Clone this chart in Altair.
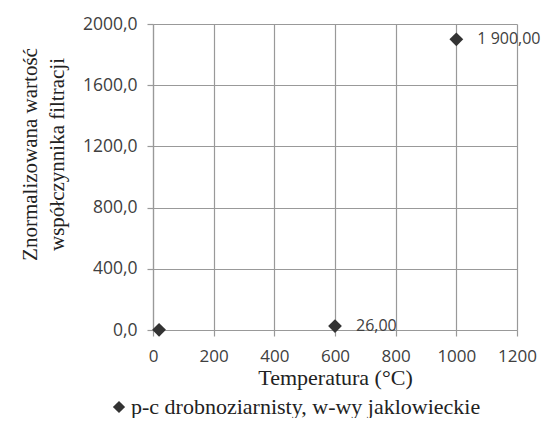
import altair as alt
import pandas as pd

temps = [20, 600, 1000]
values = [1.0, 26.0, 1900.0]
labels = ["", "26,00", "1 900,00"]
series = ["p-c  drobnoziarnisty, w-wy jaklowieckie"] * 3

df = pd.DataFrame({"T": temps, "V": values, "lab": labels, "s": series})

common = dict(labelFont="Open Sans", labelColor="#404040", labelOverlap=False, labelFlush=False,
              tickSize=6, tickColor="#999", domainColor="#999",
              gridColor="#999", gridWidth=1.2, tickWidth=1.2, domainWidth=1.2,
              titleFont="Liberation Serif", titleFontWeight="normal", titleColor="#222")

x = alt.X("T:Q", scale=alt.Scale(domain=[0, 1200], nice=False),
          axis=alt.Axis(values=[0, 200, 400, 600, 800, 1000, 1200], title="Temperatura (°C)",
                        labelExpr="format(datum.value, 'd')", labelFontSize=17,
                        titleFontSize=22, titlePadding=3, labelPadding=12, **common))
y = alt.Y("V:Q", scale=alt.Scale(domain=[0, 2000], nice=False),
          axis=alt.Axis(values=[0, 400, 800, 1200, 1600, 2000],
                        title=["Znormalizowana wartość", "współczynnika  filtracji"],
                        labelExpr="replace(format(datum.value, '.1f'), '.', ',')",
                        labelFontSize=17.5,
                        titleFontSize=21, titlePadding=15, titleLineHeight=27, titleY=130,
                        labelPadding=10, **common))

pts = alt.Chart(df).mark_point(shape="diamond", filled=True, size=190, opacity=1).encode(
    x=x, y=y,
    color=alt.Color("s:N", scale=alt.Scale(range=["#333333"]),
                    legend=alt.Legend(title=None, orient="none", legendX=-45, legendY=372,
                                      labelFont="Liberation Serif", labelFontSize=22,
                                      labelColor="#222", symbolType="diamond", symbolSize=150,
                                      labelOffset=1, labelLimit=500)),
)
txt = alt.Chart(df).mark_text(align="left", baseline="middle", dx=21, font="Open Sans",
                              fontSize=16, color="#404040").encode(
    x="T:Q", y="V:Q", text="lab:N")

chart = (pts + txt).properties(
    width=364, height=306,
    padding={"left": 145, "top": 16, "right": 26, "bottom": 88},
    autosize=alt.AutoSizeParams(type="none"),
).configure_view(stroke=None)

chart.save("out.html", embed_options={"renderer": "svg", "actions": False})
